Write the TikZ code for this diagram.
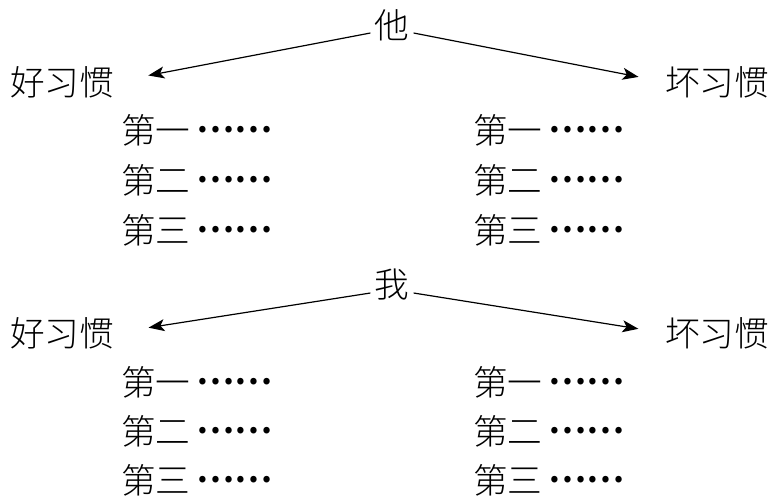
\documentclass[tikz,border=0pt]{standalone}
\usepackage{fontspec}
\newfontfamily\cjk{Noto Sans CJK SC Light}
\newfontfamily\cjkdot{Noto Sans CJK SC Bold}
\usetikzlibrary{positioning,arrows.meta}

\newcommand{\dotrow}{\raisebox{0.3em}{\cjkdot\,……}}

\tikzset{
    word/.style={font=\cjk\fontsize{26}{26}\selectfont, inner sep=0pt},
    item/.style={word, anchor=west},
    pointer/.style={-{Stealth[length=12pt, width=9pt, inset=3pt]}, line width=0.9pt},
}

\begin{document}
\begin{tikzpicture}[x=0.75pt, y=-0.75pt]
    \useasboundingbox (0,0) rectangle (775,497);

    % upper half
    \node[word] (ta) at (392,25) {他};
    \node[word] (good1) at (62,82) {好习惯};
    \node[word] (bad1) at (717,82) {坏习惯};
    \node[item] (good1a) at (121,130) {第一\dotrow};
    \node[item] (good1b) at (121,180) {第二\dotrow};
    \node[item] (good1c) at (121,230) {第三\dotrow};
    \node[item] (bad1a) at (473,130) {第一\dotrow};
    \node[item] (bad1b) at (473,180) {第二\dotrow};
    \node[item] (bad1c) at (473,230) {第三\dotrow};

    % lower half
    \node[word] (wo) at (392,285) {我};
    \node[word] (good2) at (62,333) {好习惯};
    \node[word] (bad2) at (717,333) {坏习惯};
    \node[item] (good2a) at (121,382) {第一\dotrow};
    \node[item] (good2b) at (121,431) {第二\dotrow};
    \node[item] (good2c) at (121,480) {第三\dotrow};
    \node[item] (bad2a) at (473,382) {第一\dotrow};
    \node[item] (bad2b) at (473,431) {第二\dotrow};
    \node[item] (bad2c) at (473,480) {第三\dotrow};

    % arrows
    \draw[pointer, shorten >=26pt] ([shift={(-3pt,-6pt)}]ta.west) -- (good1.east);
    \draw[pointer, shorten >=20pt] ([shift={(3pt,-6pt)}]ta.east) -- (bad1.west);
    \draw[pointer, shorten >=26pt] ([shift={(-3pt,-6pt)}]wo.west) -- (good2.east);
    \draw[pointer, shorten >=20pt] ([shift={(3pt,-6pt)}]wo.east) -- (bad2.west);
\end{tikzpicture}
\end{document}
